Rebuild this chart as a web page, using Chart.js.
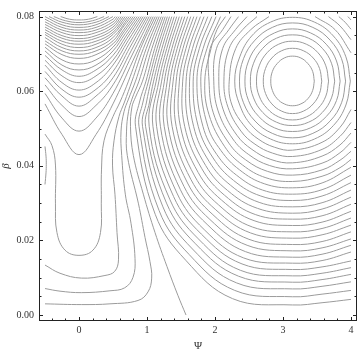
<!DOCTYPE html>
<html lang="en">
  <head>
    <meta charset="UTF-8" />
    <title>Contours in psi and beta</title>
    <script src="https://cdn.jsdelivr.net/npm/chart.js@4.4.0/dist/chart.umd.min.js"></script>
    <style>
      html,
      body {
        margin: 0;
        padding: 0;
        background: #fff;
      }
    </style>
  </head>
  <body>
    <canvas id="myChart" width="360" height="353"></canvas>
    <script>
      const xTicks = [0, 1, 2, 3, 4];
      const yTicks = [0, 0.02, 0.04, 0.06, 0.08];

      // closed rings round the minimum near (pi, 0.063)
      const ring1 = [[3.46,.0627],[3.436,.0653],[3.366,.0674],[3.263,.0689],[3.14,.0694],[3.018,.0689],[2.914,.0674],[2.844,.0653],[2.82,.0627],[2.844,.0602],[2.914,.0580],[3.018,.0566],[3.14,.0561],[3.263,.0566],[3.366,.0580],[3.436,.0602],[3.46,.0627]];
      const ring2 = [[3.57,.0627],[3.537,.0661],[3.444,.0689],[3.305,.0708],[3.14,.0715],[2.975,.0708],[2.836,.0689],[2.743,.0661],[2.71,.0627],[2.743,.0594],[2.836,.0566],[2.975,.0547],[3.14,.0540],[3.305,.0547],[3.444,.0566],[3.537,.0594],[3.57,.0627]];
      const ring3 = [[3.67,.0627],[3.630,.0668],[3.515,.0703],[3.343,.0726],[3.14,.0734],[2.937,.0726],[2.765,.0703],[2.650,.0668],[2.61,.0627],[2.650,.0587],[2.765,.0554],[2.937,.0531],[3.14,.0523],[3.343,.0531],[3.515,.0554],[3.630,.0587],[3.67,.0627]];
      const ring4 = [[3.76,.0627],[3.713,.0675],[3.578,.0715],[3.377,.0742],[3.14,.0751],[2.903,.0742],[2.702,.0715],[2.567,.0675],[2.52,.0627],[2.567,.0582],[2.702,.0543],[2.903,.0517],[3.14,.0508],[3.377,.0517],[3.578,.0543],[3.713,.0582],[3.76,.0627]];
      const ring5 = [[3.84,.0627],[3.787,.0681],[3.635,.0726],[3.408,.0756],[3.14,.0767],[2.872,.0756],[2.645,.0726],[2.493,.0681],[2.44,.0627],[2.493,.0575],[2.645,.0532],[2.872,.0502],[3.14,.0492],[3.408,.0502],[3.635,.0532],[3.787,.0575],[3.84,.0627]];
      const ring6 = [[3.92,.0627],[3.861,.0687],[3.692,.0737],[3.439,.0771],[3.14,.0783],[2.842,.0771],[2.589,.0737],[2.419,.0687],[2.36,.0627],[2.419,.0569],[2.589,.0520],[2.842,.0487],[3.14,.0475],[3.439,.0487],[3.692,.0520],[3.861,.0569],[3.92,.0627]];
      const ring7 = [[3.99,.0627],[3.925,.0692],[3.741,.0748],[3.465,.0785],[3.14,.0798],[2.815,.0785],[2.539,.0748],[2.364,.0692],[2.29,.0627],[2.364,.0563],[2.539,.0508],[2.815,.0472],[3.14,.0459],[3.465,.0472],[3.741,.0508],[3.925,.0563],[3.99,.0627]];

      // short pieces cut off in the top right corner
      const corner1 = [[3.471,.0800],[3.765,.0765],[4.0,.0703]];
      const corner2 = [[3.669,.0800],[3.838,.0775],[4.0,.0738]];
      const corner3 = [[3.821,.0800],[3.912,.0785],[4.0,.0766]];
      const corner4 = [[3.954,.0800],[4.0,.0791]];

      // open arcs: top edge, round the left and bottom, out at the right edge
      const arc1 = [[2.794,.0800],[2.526,.0765],[2.304,.0714],[2.209,.0627],[2.249,.0563],[2.444,.0504],[2.634,.0472],[2.872,.0450],[3.141,.0442],[3.574,.0463],[3.838,.0503],[4.0,.0551]];
      const arc2 = [[2.618,.0800],[2.407,.0765],[2.206,.0714],[2.131,.0627],[2.191,.0557],[2.382,.0493],[2.588,.0458],[2.847,.0434],[3.141,.0425],[3.574,.0444],[3.838,.0479],[4.0,.0516]];
      const arc3 = [[2.471,.0800],[2.301,.0765],[2.112,.0714],[2.056,.0627],[2.118,.0552],[2.322,.0482],[2.543,.0444],[2.822,.0417],[3.141,.0408],[3.574,.0426],[3.838,.0456],[4.0,.0488]];
      const arc4 = [[2.346,.0800],[2.204,.0765],[2.021,.0714],[1.982,.0627],[2.046,.0547],[2.262,.0472],[2.497,.0430],[2.799,.0401],[3.141,.0392],[3.574,.0407],[3.838,.0435],[4.0,.0463]];
      const arc5 = [[2.235,.0800],[2.113,.0765],[1.928,.0714],[1.912,.0627],[1.975,.0542],[2.203,.0461],[2.451,.0416],[2.774,.0385],[3.141,.0375],[3.574,.0389],[3.838,.0415],[4.0,.0439]];
      const arc6 = [[2.154,.0800],[2.029,.0765],[1.941,.0714],[1.850,.0627],[1.912,.0537],[2.144,.0451],[2.406,.0402],[2.749,.0368],[3.141,.0358],[3.574,.0372],[3.838,.0395],[4.0,.0417]];
      const arc7 = [[2.081,.0800],[1.881,.0714],[1.791,.0627],[1.894,.0506],[2.087,.0441],[2.362,.0389],[2.724,.0352],[3.141,.0341],[3.574,.0354],[4.0,.0396]];
      const arc8 = [[2.015,.0800],[1.824,.0714],[1.734,.0627],[1.822,.0506],[2.028,.0430],[2.316,.0375],[2.699,.0335],[3.141,.0324],[3.574,.0336],[4.0,.0375]];
      const arc9 = [[1.953,.0800],[1.769,.0714],[1.679,.0627],[1.753,.0506],[1.972,.0421],[2.272,.0361],[2.674,.0319],[3.141,.0307],[3.574,.0319],[4.0,.0355]];
      const arc10 = [[1.894,.0800],[1.718,.0714],[1.626,.0627],[1.685,.0506],[1.916,.0411],[2.228,.0348],[2.649,.0302],[3.141,.0290],[3.574,.0301],[4.0,.0335]];
      const arc11 = [[1.838,.0800],[1.668,.0714],[1.575,.0627],[1.619,.0506],[1.862,.0401],[2.184,.0334],[2.624,.0286],[3.141,.0273],[3.574,.0284],[4.0,.0316]];
      const arc12 = [[1.785,.0800],[1.619,.0714],[1.525,.0627],[1.554,.0506],[1.807,.0392],[2.141,.0321],[2.599,.0269],[3.141,.0257],[3.574,.0266],[4.0,.0297]];
      const arc13 = [[1.735,.0800],[1.572,.0714],[1.476,.0627],[1.491,.0506],[1.753,.0382],[2.097,.0308],[2.574,.0253],[3.141,.0240],[3.574,.0249],[4.0,.0278]];
      const arc14 = [[1.688,.0800],[1.528,.0714],[1.429,.0627],[1.429,.0506],[1.700,.0373],[2.054,.0295],[2.549,.0236],[3.141,.0223],[3.574,.0232],[4.0,.0260]];
      const arc15 = [[1.643,.0800],[1.485,.0714],[1.384,.0627],[1.369,.0506],[1.647,.0363],[2.012,.0282],[2.524,.0220],[3.141,.0206],[3.574,.0215],[4.0,.0241]];
      const arc16 = [[1.599,.0800],[1.443,.0714],[1.340,.0627],[1.310,.0506],[1.596,.0354],[1.969,.0269],[2.499,.0203],[3.141,.0189],[3.574,.0197],[4.0,.0223]];
      const arc17 = [[1.556,.0800],[1.403,.0714],[1.297,.0627],[1.253,.0506],[1.543,.0345],[1.926,.0256],[2.472,.0187],[3.141,.0172],[3.574,.0180],[4.0,.0204]];
      const arc18 = [[1.515,.0800],[1.365,.0714],[1.256,.0627],[1.197,.0506],[1.491,.0336],[1.884,.0243],[2.447,.0170],[3.141,.0155],[3.574,.0163],[4.0,.0187]];
      const arc19 = [[1.475,.0800],[1.326,.0714],[1.215,.0627],[1.141,.0506],[1.440,.0327],[1.841,.0229],[2.422,.0153],[3.141,.0139],[3.574,.0146],[4.0,.0169]];
      const arc20 = [[1.437,.0800],[1.290,.0714],[1.175,.0627],[1.087,.0506],[1.390,.0318],[1.799,.0217],[2.397,.0137],[3.141,.0122],[3.574,.0129],[4.0,.0145]];
      const arc21 = [[1.400,.0800],[1.254,.0714],[1.135,.0627],[1.032,.0506],[1.338,.0309],[1.756,.0204],[2.372,.0120],[3.141,.0105],[3.574,.0112],[4.0,.0127]];
      const arc22 = [[1.365,.0800],[1.218,.0714],[1.097,.0627],[1.037,.0571],[.979,.0506],[1.287,.0300],[1.713,.0191],[2.347,.0104],[3.141,.0088],[3.574,.0095],[4.0,.0109]];
      const arc23 = [[1.331,.0800],[1.181,.0714],[1.059,.0627],[.993,.0571],[.934,.0506],[1.234,.0290],[1.669,.0177],[2.319,.0086],[3.141,.0070],[3.574,.0077],[4.0,.0089]];
      const arc24 = [[1.299,.0800],[1.147,.0714],[1.022,.0627],[.941,.0571],[.882,.0506],[1.178,.0280],[1.621,.0162],[2.290,.0066],[3.141,.0049],[3.574,.0056],[4.0,.0066]];
      const arc25 = [[1.268,.0800],[1.112,.0714],[.985,.0627],[.890,.0571],[.831,.0506],[1.121,.0270],[1.569,.0147],[2.257,.0044],[3.141,.0027],[3.574,.0033],[4.0,.0042]];

      // the line that runs down to the bottom edge at psi ~ 1.57
      const sep = [[1.238,.0800],[1.071,.0714],[.934,.0627],[.831,.0584],[.779,.0558],[.757,.0506],[.799,.0428],[.946,.0324],[1.118,.0221],[1.294,.0130],[1.456,.0052],[1.574,.0000]];

      // lines from the top edge that bend back to the left edge near the bottom
      const low4 = [[1.209,.0800],[1.029,.0714],[.882,.0627],[.779,.0579],[.728,.0545],[.699,.0493],[.710,.0428],[.875,.0298],[.971,.0208],[1.044,.0143],[1.069,.0099],[1.015,.0062],[.868,.0039],[.456,.0030],[.034,.0028],[-.5,.0030]];
      const low3 = [[1.179,.0800],[.988,.0714],[.831,.0627],[.728,.0579],[.662,.0545],[.618,.0493],[.628,.0428],[.681,.0324],[.765,.0246],[.824,.0151],[.794,.0101],[.672,.0073],[.456,.0065],[.034,.0060],[-.279,.0064],[-.5,.0071]];
      const low2 = [[1.150,.0800],[.946,.0714],[.779,.0627],[.669,.0571],[.588,.0532],[.515,.0467],[.493,.0402],[.529,.0324],[.559,.0221],[.581,.0148],[.525,.0117],[.382,.0106],[.034,.0099],[-.279,.0112],[-.5,.0134]];
      const valley = [[1.121,.0800],[.904,.0714],[.728,.0627],[.603,.0571],[.5,.0532],[.368,.0467],[.331,.0389],[.328,.0298],[.316,.0221],[.206,.0174],[0,.0160],[-.206,.0174],[-.324,.0221],[-.346,.0298],[-.346,.0402],[-.397,.0454],[-.5,.0485]];
      const edgeArc = [[-.5,.0452],[-.485,.0426],[-.481,.0404],[-.485,.0381],[-.5,.0350]];

      // cup shaped lines over psi = 0, top left
      const cup2 = [[-.27,.0800],[-.14,.0793],[0,.0791],[.14,.0793],[.27,.0800]];
      const cup3 = [[-.37,.0800],[-.2,.0789],[0,.0784],[.2,.0789],[.37,.0800]];
      const cup4 = [[-.44,.0800],[-.25,.0785],[0,.0778],[.25,.0785],[.44,.0800]];
      const cup5 = [[-.5,.0800],[-.25,.0778],[0,.0771],[.25,.0778],[.5,.0800]];
      const cup6 = [[-.5,.0793],[-.25,.0771],[0,.0764],[.25,.0771],[.5,.0793],[.532,.0800]];
      const cup7 = [[-.5,.0786],[-.25,.0764],[0,.0757],[.25,.0764],[.5,.0786],[.562,.0800]];
      const cup8 = [[-.5,.0779],[-.25,.0757],[0,.0749],[.25,.0757],[.5,.0779],[.591,.0800]];
      const cup9 = [[-.5,.0772],[-.25,.0749],[0,.0741],[.25,.0749],[.5,.0772],[.621,.0800]];
      const cup10 = [[-.5,.0765],[-.25,.0742],[0,.0734],[.25,.0742],[.5,.0765],[.650,.0800]];
      const cup11 = [[-.5,.0758],[-.25,.0734],[0,.0726],[.25,.0734],[.5,.0758],[.679,.0800]];
      const cup12 = [[-.5,.0752],[-.25,.0726],[0,.0717],[.25,.0726],[.5,.0752],[.709,.0800]];
      const cup13 = [[-.5,.0744],[-.25,.0717],[0,.0708],[.25,.0717],[.5,.0744],[.738,.0800]];
      const cup14 = [[-.5,.0735],[-.25,.0708],[0,.0699],[.25,.0708],[.5,.0735],[.634,.0768],[.768,.0800]];
      const cup15 = [[-.5,.0727],[-.25,.0698],[0,.0688],[.25,.0698],[.5,.0727],[.649,.0763],[.797,.0800]];
      const cup16 = [[-.5,.0718],[-.25,.0684],[0,.0673],[.25,.0684],[.5,.0718],[.663,.0759],[.826,.0800]];
      const cup17 = [[-.5,.0708],[-.25,.0670],[0,.0657],[.25,.0670],[.5,.0708],[.678,.0754],[.856,.0800]];
      const cup18 = [[-.5,.0696],[-.25,.0657],[0,.0640],[.25,.0657],[.5,.0696],[.693,.0748],[.885,.0800]];
      const cup19 = [[-.5,.0683],[-.25,.0641],[0,.0623],[.25,.0641],[.5,.0683],[.707,.0742],[.915,.0800]];
      const cup20 = [[-.5,.0670],[-.25,.0623],[0,.0603],[.25,.0623],[.5,.0670],[.722,.0735],[.944,.0800]];
      const cup21 = [[-.5,.0653],[-.25,.0605],[0,.0584],[.25,.0605],[.5,.0653],[.737,.0727],[.974,.0800]];
      const cup22 = [[-.5,.0636],[-.25,.0587],[0,.0560],[.25,.0587],[.5,.0636],[.751,.0718],[1.003,.0800]];
      const cup23 = [[-.5,.0617],[-.25,.0562],[0,.0532],[.25,.0562],[.5,.0617],[.766,.0708],[1.032,.0800]];
      const cup24 = [[-.5,.0594],[-.25,.0528],[0,.0493],[.25,.0528],[.5,.0594],[.781,.0697],[1.062,.0800]];
      const cup25 = [[-.5,.0566],[-.25,.0484],[0,.0430],[.25,.0484],[.5,.0566],[.796,.0683],[1.091,.0800]];

      const contours = [
        ring1, ring2, ring3, ring4, ring5, ring6, ring7,
        corner1, corner2, corner3, corner4,
        arc1, arc2, arc3, arc4, arc5, arc6, arc7, arc8, arc9, arc10, arc11, arc12, arc13,
        arc14, arc15, arc16, arc17, arc18, arc19, arc20, arc21, arc22, arc23, arc24, arc25,
        sep, low4, low3, low2, valley, edgeArc,
        cup2, cup3, cup4, cup5, cup6, cup7, cup8, cup9, cup10, cup11, cup12, cup13,
        cup14, cup15, cup16, cup17, cup18, cup19, cup20, cup21, cup22, cup23, cup24, cup25,
      ];

      // frame with inward ticks on all four sides
      const framePlugin = {
        id: "frame",
        afterDraw(chart) {
          const { ctx, chartArea: a } = chart;
          const xs = chart.scales.x;
          const ys = chart.scales.y;
          ctx.save();
          ctx.strokeStyle = "#222";
          ctx.lineWidth = 1;
          ctx.strokeRect(a.left + 0.5, a.top + 0.5, a.right - a.left - 1, a.bottom - a.top - 1);
          ctx.beginPath();
          for (let i = -2; i <= 20; i++) {
            const v = i * 0.2;
            const len = i % 5 === 0 ? 4 : 2.5;
            const px = Math.round(xs.getPixelForValue(v)) + 0.5;
            ctx.moveTo(px, a.bottom);
            ctx.lineTo(px, a.bottom - len);
            ctx.moveTo(px, a.top);
            ctx.lineTo(px, a.top + len);
          }
          for (let i = 0; i <= 16; i++) {
            const v = i * 0.005;
            const len = i % 4 === 0 ? 4 : 2.5;
            const py = Math.round(ys.getPixelForValue(v)) + 0.5;
            ctx.moveTo(a.left, py);
            ctx.lineTo(a.left + len, py);
            ctx.moveTo(a.right, py);
            ctx.lineTo(a.right - len, py);
          }
          ctx.stroke();
          ctx.restore();
        },
      };

      Chart.defaults.font.family = "'Liberation Serif', 'Times New Roman', serif";
      Chart.defaults.color = "#333";

      const ctx = document.getElementById("myChart").getContext("2d");
      const myChart = new Chart(ctx, {
        type: "scatter",
        data: {
          datasets: contours.map((pts) => ({
            data: pts.map(([x, y]) => ({ x, y })),
            showLine: true,
            borderColor: "rgb(155,155,155)",
            borderWidth: 1,
            pointRadius: 0,
            tension: 0.4,
            fill: false,
          })),
        },
        options: {
          responsive: false,
          animation: false,
          layout: { padding: { top: 1, right: 3, left: 0, bottom: 0 } },
          plugins: { legend: { display: false }, tooltip: { enabled: false } },
          scales: {
            x: {
              type: "linear",
              min: -0.588,
              max: 4.088,
              grid: { display: false, drawTicks: false },
              border: { display: false },
              afterBuildTicks: (s) => {
                s.ticks = xTicks.map((v) => ({ value: v }));
              },
              afterFit: (s) => {
                s.height = 32;
              },
              ticks: {
                autoSkip: false,
                maxRotation: 0,
                padding: 3,
                font: { size: 10 },
                callback: (v) => String(v),
              },
              title: {
                display: true,
                text: "Ψ",
                padding: { top: 0, bottom: 0 },
                font: { size: 11 },
              },
            },
            y: {
              type: "linear",
              min: -0.0016,
              max: 0.0815,
              grid: { display: false, drawTicks: false },
              border: { display: false },
              afterBuildTicks: (s) => {
                s.ticks = yTicks.map((v) => ({ value: v }));
              },
              afterFit: (s) => {
                s.width = 39;
              },
              ticks: {
                autoSkip: false,
                padding: 5,
                font: { size: 10 },
                callback: (v) => Number(v).toFixed(2),
              },
              title: {
                display: true,
                text: "β",
                padding: { top: 0, bottom: 0 },
                font: { size: 11, style: "italic" },
              },
            },
          },
        },
        plugins: [framePlugin],
      });
    </script>
  </body>
</html>
